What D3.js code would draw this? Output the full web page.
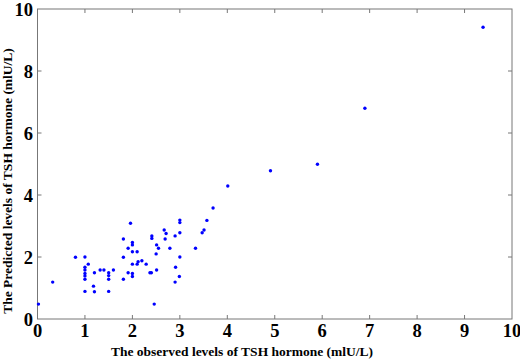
<!DOCTYPE html>
<html>
<head>
<meta charset="utf-8">
<script src="https://cdn.jsdelivr.net/npm/d3@7"></script>
<style>
  body { margin: 0; background: #fff; }
  svg text { font-family: "Liberation Serif", "Times New Roman", serif; font-weight: bold; fill: #000; }
</style>
</head>
<body>
<div id="chart"></div>
<script>
// observed vs predicted TSH (mIU/L)
const observed = [0.02, 0.32, 0.8, 1.0, 1.0, 1.0, 1.0, 1.0, 1.0, 1.0, 1.07, 1.2, 1.18, 1.2,
  1.32, 1.4, 1.5, 1.5, 1.5, 1.5, 1.6, 1.81, 1.81, 1.81, 1.91, 1.91, 1.96, 2.0, 2.0, 2.0,
  2.0, 2.0, 2.0, 2.1, 2.1, 2.12, 2.2, 2.29, 2.41, 2.41, 2.4, 2.37, 2.46, 2.5, 2.51, 2.55,
  2.51, 2.67, 2.71, 2.69, 2.79, 2.9, 3.0, 3.0, 3.0, 3.0, 2.91, 2.9, 2.99, 3.33, 3.47, 3.51,
  3.57, 3.7, 4.01, 4.91, 5.9, 6.9, 9.39];
const predicted = [0.48, 1.19, 1.99, 2.0, 1.67, 1.58, 1.47, 1.39, 1.28, 0.89, 1.77, 1.49, 1.06, 0.88,
  1.58, 1.58, 1.49, 1.4, 1.28, 0.89, 1.58, 2.58, 1.99, 1.28, 1.49, 2.28, 3.09, 2.47, 2.39, 2.17,
  1.77, 1.47, 1.37, 2.17, 1.77, 1.85, 1.88, 1.77, 2.68, 2.6, 1.49, 1.49, 0.48, 2.1, 2.39, 2.28,
  1.58, 2.87, 2.76, 2.58, 2.28, 2.68, 2.78, 3.19, 3.11, 2.0, 1.67, 1.19, 1.37, 2.28, 2.78, 2.87,
  3.18, 3.58, 4.29, 4.78, 4.99, 6.8, 9.41];
const xTicks = [0, 1, 2, 3, 4, 5, 6, 7, 8, 9, 10];
const yTicks = [0, 2, 4, 6, 8, 10];
const xTitle = "The observed levels of TSH hormone (mlU/L)";
const yTitle = "The Predicted levels of TSH hormone (mlU/L)";

const width = 520, height = 363;
const plotLeft = 37.5, plotRight = 512, plotTop = 9, plotBottom = 319;

const svg = d3.select("#chart").append("svg")
    .attr("width", width)
    .attr("height", height);

const x = d3.scaleLinear().domain([0, 10]).range([plotLeft, plotRight]);
const y = d3.scaleLinear().domain([0, 10]).range([plotBottom, plotTop]);

// box
svg.append("rect")
    .attr("x", plotLeft).attr("y", plotTop)
    .attr("width", plotRight - plotLeft).attr("height", plotBottom - plotTop)
    .attr("fill", "none").attr("stroke", "#777").attr("stroke-width", 1);

const tickLen = 4;
// inward ticks on all four sides
const ticks = svg.append("g").attr("stroke", "#777").attr("stroke-width", 1);
ticks.selectAll(".xb").data(xTicks.slice(1, -1)).join("line")
    .attr("x1", d => x(d)).attr("x2", d => x(d))
    .attr("y1", plotBottom).attr("y2", plotBottom - tickLen);
ticks.selectAll(".xt").data(xTicks.slice(1, -1)).join("line")
    .attr("x1", d => x(d)).attr("x2", d => x(d))
    .attr("y1", plotTop).attr("y2", plotTop + tickLen);
ticks.selectAll(".yl").data(yTicks.slice(1, -1)).join("line")
    .attr("y1", d => y(d)).attr("y2", d => y(d))
    .attr("x1", plotLeft).attr("x2", plotLeft + tickLen);
ticks.selectAll(".yr").data(yTicks.slice(1, -1)).join("line")
    .attr("y1", d => y(d)).attr("y2", d => y(d))
    .attr("x1", plotRight).attr("x2", plotRight - tickLen);

// tick labels
svg.append("g").selectAll("text").data(xTicks).join("text")
    .attr("x", d => x(d))
    .attr("y", 337)
    .attr("text-anchor", "middle")
    .style("font-size", "18.5px")
    .text(d => d);

svg.append("g").selectAll("text").data(yTicks).join("text")
    .attr("x", 33)
    .attr("y", d => y(d) + 6.5)
    .attr("text-anchor", "end")
    .style("font-size", "18.5px")
    .text(d => d);

// axis titles
svg.append("text")
    .attr("x", 242).attr("y", 356)
    .attr("text-anchor", "middle")
    .style("font-size", "13.5px")
    .text(xTitle);

svg.append("text")
    .attr("transform", "translate(12,181) rotate(-90)")
    .attr("text-anchor", "middle")
    .style("font-size", "13.5px")
    .text(yTitle);

// points
svg.append("g").selectAll("circle")
    .data(observed.map((v, i) => [v, predicted[i]]))
    .join("circle")
    .attr("cx", d => x(d[0]))
    .attr("cy", d => y(d[1]))
    .attr("r", 1.7)
    .attr("fill", "#0000ff");
</script>
</body>
</html>
